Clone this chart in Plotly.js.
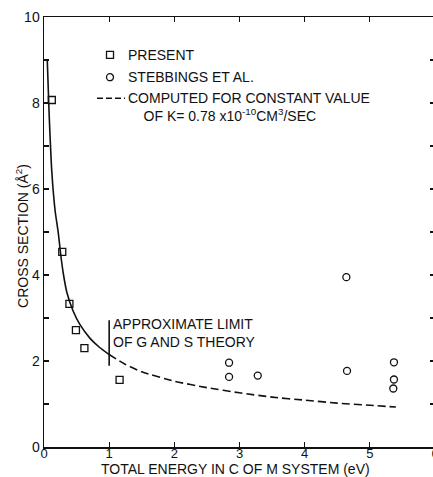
<!DOCTYPE html>
<html>
<head>
<meta charset="utf-8">
<script src="https://cdn.plot.ly/plotly-3.0.1.min.js"></script>
<style>
html,body{margin:0;padding:0;overflow:hidden;background:#fff;}
#chart{width:440px;height:477px;}
</style>
</head>
<body>
<div id="chart"></div>
<script>
// PRESENT (squares)
const presentX = [0.12, 0.28, 0.39, 0.49, 0.62, 1.16];
const presentY = [8.07, 4.54, 3.33, 2.72, 2.30, 1.56];
// STEBBINGS ET AL. (circles)
const stebX = [2.84, 2.84, 3.28, 4.64, 4.65, 5.37, 5.37, 5.36];
const stebY = [1.96, 1.63, 1.66, 3.95, 1.77, 1.97, 1.57, 1.36];
// Computed curve, solid part (below limit of G and S theory)
const solidX = [0.05, 0.08, 0.12, 0.17, 0.22, 0.26, 0.30, 0.35, 0.45, 0.55, 0.71, 0.85, 1.0];
const solidY = [9.0, 7.7, 6.4, 5.5, 4.97, 4.43, 4.0, 3.6, 3.15, 2.85, 2.52, 2.32, 2.15];
// Computed curve, dashed part
const dashX = [1.0, 1.25, 1.5, 2.0, 2.5, 3.0, 3.5, 4.0, 4.5, 5.0, 5.4];
const dashY = [2.15, 1.92, 1.75, 1.53, 1.38, 1.26, 1.16, 1.09, 1.02, 0.97, 0.93];
// Approximate limit marker
const limitX = [1.0, 1.0];
const limitY = [1.89, 2.95];
// Tick labels
const xTickVals = [0, 1, 2, 3, 4, 5, 6];
const xTickText = ['0', '1', '2', '3', '4', '5', '6'];
const yTickVals = [0, 1, 2, 3, 4, 5, 6, 7, 8, 9, 10];
const yTickText = ['0', '', '2', '', '4', '', '6', '', '8', '', '10'];
const xTitle = 'TOTAL ENERGY IN C OF M SYSTEM (eV)';
const yTitle = 'CROSS SECTION (Å<sup>2</sup>)';

const FONT = 'Liberation Sans, Arial, Helvetica, sans-serif';
const INK = '#111';

const traces = [
  {x: solidX, y: solidY, mode: 'lines', line: {color: INK, width: 1.6, shape: 'spline', smoothing: 0.6}, hoverinfo: 'skip'},
  {x: dashX, y: dashY, mode: 'lines', line: {color: INK, width: 1.6, dash: '8px,4px', shape: 'spline', smoothing: 0.6}, hoverinfo: 'skip'},
  {x: limitX, y: limitY, mode: 'lines', line: {color: INK, width: 1.6}, hoverinfo: 'skip'},
  {x: presentX, y: presentY, mode: 'markers', marker: {symbol: 'square-open', size: 7, color: INK, line: {width: 1.3, color: INK}}},
  {x: stebX, y: stebY, mode: 'markers', marker: {symbol: 'circle-open', size: 7, color: INK, line: {width: 1.3, color: INK}}}
];

const ann = (x, y, text) => ({x: x, y: y, xref: 'x', yref: 'y', text: text, showarrow: false,
  xanchor: 'left', yanchor: 'middle', align: 'left', borderpad: 0,
  font: {family: FONT, size: 14, color: INK}});

const layout = {
  width: 440, height: 477,
  margin: {l: 44, r: 5, t: 17, b: 30},
  paper_bgcolor: '#fff', plot_bgcolor: '#fff',
  showlegend: false,
  font: {family: FONT, size: 14, color: INK},
  xaxis: {
    range: [0, 6], tickvals: xTickVals, ticktext: xTickText,
    ticks: 'inside', ticklen: 5, tickwidth: 1.2, tickcolor: INK,
    showline: true, linecolor: INK, linewidth: 1.5, mirror: 'allticks',
    showgrid: false, zeroline: false, ticklabelstandoff: -6,
    tickfont: {family: FONT, size: 13, color: INK}
  },
  yaxis: {
    range: [0, 10], tickvals: yTickVals, ticktext: yTickText,
    ticks: 'inside', ticklen: 5, tickwidth: 1.2, tickcolor: INK,
    showline: true, linecolor: INK, linewidth: 1.5, mirror: 'allticks',
    showgrid: false, zeroline: false,
    tickfont: {family: FONT, size: 14, color: INK}
  },
  shapes: [
    {type: 'rect', xref: 'x', yref: 'y', xsizemode: 'pixel', ysizemode: 'pixel', xanchor: 1.013, yanchor: 9.12,
     x0: -3.5, x1: 3.5, y0: -3.5, y1: 3.5, line: {color: INK, width: 1.3}},
    {type: 'circle', xref: 'x', yref: 'y', xsizemode: 'pixel', ysizemode: 'pixel', xanchor: 1.013, yanchor: 8.60,
     x0: -3.5, x1: 3.5, y0: -3.5, y1: 3.5, line: {color: INK, width: 1.3}},
    {type: 'line', xref: 'x', yref: 'y', x0: 0.813, x1: 1.243, y0: 8.11, y1: 8.11,
     line: {color: INK, width: 1.5, dash: '6px,3px'}}
  ],
  annotations: [
    ann(1.27, 9.12, 'PRESENT'),
    ann(1.27, 8.60, 'STEBBINGS ET AL.'),
    ann(1.27, 7.91, 'COMPUTED FOR CONSTANT VALUE<br>&nbsp;&nbsp;&nbsp;&nbsp;OF K= 0.78 x10<sup>-10</sup>CM<sup>3</sup>/SEC'),
    ann(1.04, 2.64, 'APPROXIMATE LIMIT<br>OF G AND S THEORY'),
    {x: 0.491, y: -0.051, xref: 'paper', yref: 'paper', text: xTitle, showarrow: false,
     xanchor: 'center', yanchor: 'middle', font: {family: FONT, size: 14, color: INK}},
    {x: -0.056, y: 0.491, xref: 'paper', yref: 'paper', text: yTitle, showarrow: false, textangle: -90,
     xanchor: 'center', yanchor: 'middle', font: {family: FONT, size: 14, color: INK}}
  ]
};

Plotly.newPlot('chart', traces, layout, {staticPlot: true, displayModeBar: false});
</script>
</body>
</html>
